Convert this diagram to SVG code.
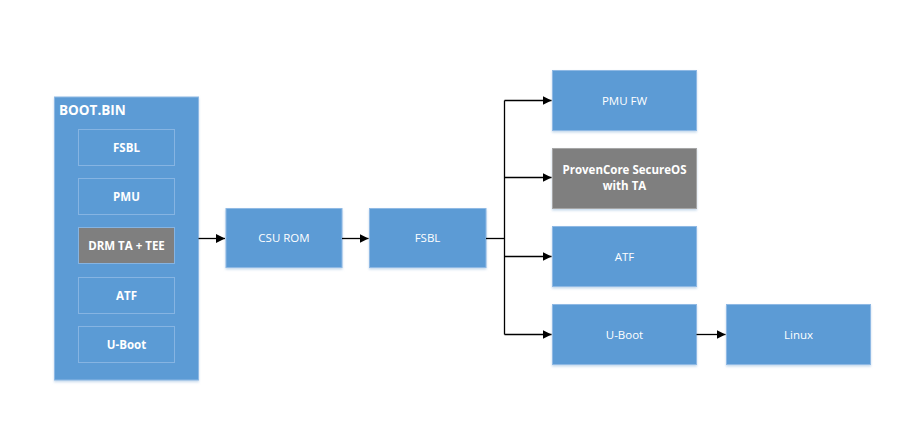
<svg xmlns="http://www.w3.org/2000/svg" width="913" height="428" viewBox="0 0 913 428">
<defs>
<marker id="arr" markerWidth="10" markerHeight="10" refX="9" refY="5" orient="auto" markerUnits="userSpaceOnUse">
<path d="M0,0.5 L9,5 L0,9.5 Z" fill="#000"/>
</marker>
<filter id="sh" x="-10%" y="-10%" width="120%" height="130%">
<feDropShadow dx="0" dy="1.5" stdDeviation="1.2" flood-color="#9fbfdf" flood-opacity="0.6"/>
</filter>
<style>
.box{fill:#5B9BD5;stroke:#8fb9e4;stroke-width:1;filter:url(#sh)}
.gray{fill:#7F7F7F;stroke:#a6a6a6;stroke-width:1;filter:url(#sh)}
.inner{fill:#5B9BD5;stroke:#86b4e2;stroke-width:1}
.innerg{fill:#7F7F7F;stroke:#86b4e2;stroke-width:1}
.t{font-family:"Open Sans","Noto Sans",sans-serif;font-size:11.5px;fill:#fff;text-anchor:middle}
.b{font-weight:bold}
.title{font-family:"Open Sans","Noto Sans",sans-serif;font-size:13.5px;font-weight:bold;fill:#fff}
.c{fill:none;stroke:#000;stroke-width:1.3}
</style>
</defs>
<rect width="913" height="428" fill="#fff"/>

<g id="bootbin">
<rect class="box" x="54.5" y="97" width="144" height="283"/>
<text class="title" x="59" y="115">BOOT.BIN</text>
<g id="bb-fsbl"><rect class="inner" x="78.5" y="129.5" width="96" height="36"/><text class="t b" x="126.5" y="151.5">FSBL</text></g>
<g id="bb-pmu"><rect class="inner" x="78.5" y="178.5" width="96" height="36"/><text class="t b" x="126.5" y="200.5">PMU</text></g>
<g id="bb-drm"><rect class="innerg" x="78.5" y="227.5" width="96" height="36"/><text class="t b" x="126.5" y="249.5">DRM TA + TEE</text></g>
<g id="bb-atf"><rect class="inner" x="78.5" y="277.5" width="96" height="36"/><text class="t b" x="126.5" y="299.5">ATF</text></g>
<g id="bb-uboot"><rect class="inner" x="78.5" y="326.5" width="96" height="36"/><text class="t b" x="126.5" y="348.5">U-Boot</text></g>
</g>

<g id="csurom"><rect class="box" x="226" y="208.5" width="116" height="59"/><text class="t" x="284" y="242">CSU ROM</text></g>
<g id="fsbl"><rect class="box" x="369.5" y="208.5" width="116.5" height="59"/><text class="t" x="427.5" y="242">FSBL</text></g>
<g id="pmufw"><rect class="box" x="552.5" y="70.5" width="144" height="60"/><text class="t" x="624.5" y="104.5">PMU FW</text></g>
<g id="provencore"><rect class="gray" x="552.5" y="148.5" width="144" height="60"/><text class="t b" x="624.5" y="174">ProvenCore SecureOS</text><text class="t b" x="624.5" y="190">with TA</text></g>
<g id="atf"><rect class="box" x="552.5" y="226.5" width="144" height="60"/><text class="t" x="624.5" y="260.5">ATF</text></g>
<g id="uboot"><rect class="box" x="552.5" y="304.5" width="144" height="60"/><text class="t" x="624.5" y="338.5">U-Boot</text></g>
<g id="linux"><rect class="box" x="726.5" y="304.5" width="144" height="60"/><text class="t" x="798.5" y="338.5">Linux</text></g>

<g id="connectors">
<path class="c" d="M198.5,238.5 H225" marker-end="url(#arr)"/>
<path class="c" d="M342,238.5 H368.5" marker-end="url(#arr)"/>
<path class="c" d="M486,238.5 H504.5"/>
<path class="c" d="M504.5,100.5 V334.5"/>
<path class="c" d="M504.5,100.5 H551.5" marker-end="url(#arr)"/>
<path class="c" d="M504.5,177.5 H551.5" marker-end="url(#arr)"/>
<path class="c" d="M504.5,256.5 H551.5" marker-end="url(#arr)"/>
<path class="c" d="M504.5,334.5 H551.5" marker-end="url(#arr)"/>
<path class="c" d="M696.5,334.5 H725.5" marker-end="url(#arr)"/>
</g>
</svg>
